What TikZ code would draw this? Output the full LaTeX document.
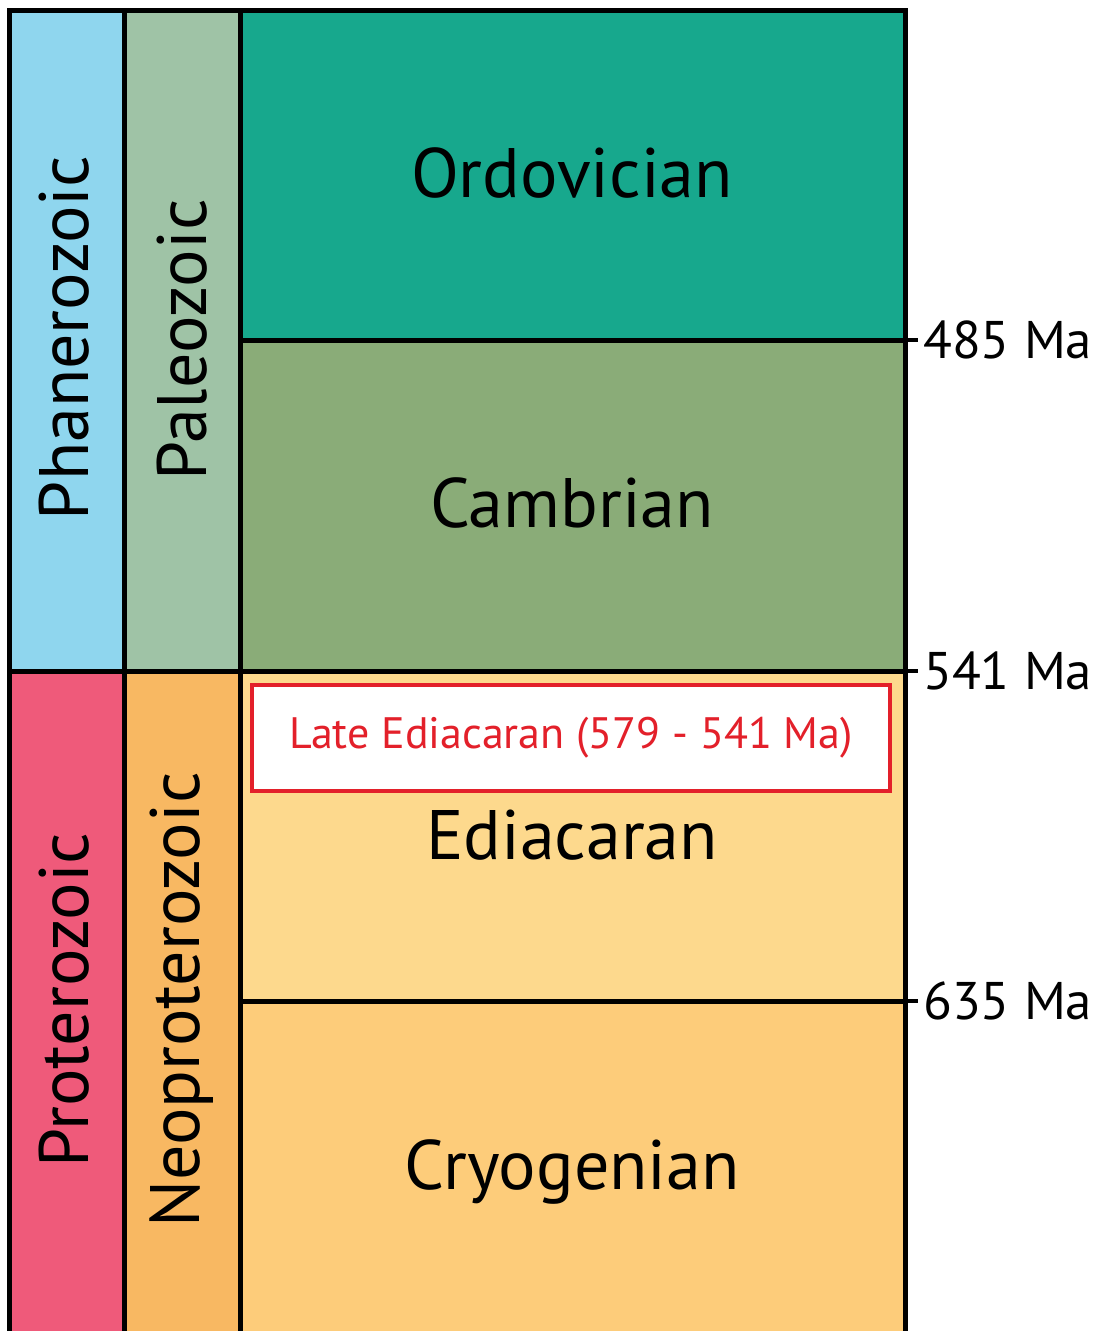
\documentclass[tikz,border=0pt]{standalone}
\usepackage{fontspec}
\setmainfont{PT Sans}
\usetikzlibrary{positioning}
\definecolor{phanblue}{HTML}{8FD6EE}
\definecolor{paleogreen}{HTML}{9FC3A6}
\definecolor{ordteal}{HTML}{17A88D}
\definecolor{cambgreen}{HTML}{8AAC78}
\definecolor{protpink}{HTML}{EF5A7A}
\definecolor{neoorange}{HTML}{F8B862}
\definecolor{edisand}{HTML}{FDD98D}
\definecolor{cryosand}{HTML}{FDCC7A}
\definecolor{latered}{HTML}{E3202A}

\begin{document}
\begin{tikzpicture}[x=1pt, y=-1pt,
  rule/.style={line width=5pt, black},
  tick/.style={line width=4pt, black},
  unit/.style={font=\fontsize{70}{70}\selectfont, inner sep=0pt},
  vunit/.style={unit, rotate=90},
  age/.style={font=\fontsize{53}{53}\selectfont, anchor=west, inner xsep=5pt, inner ysep=0pt},
  late/.style={draw=latered, line width=4pt, fill=white, text=latered,
               font=\fontsize{44}{44}\selectfont, minimum width=638pt, minimum height=106pt}]
  \useasboundingbox (0,0) rectangle (1107,1331);
  % colour fields
  \fill[phanblue]   (9,10)     rectangle (124.5,671);
  \fill[paleogreen] (124.5,10) rectangle (240.5,671);
  \fill[ordteal]    (240.5,10) rectangle (905,340);
  \fill[cambgreen]  (240.5,340) rectangle (905,671);
  \fill[protpink]   (9,671)     rectangle (124.5,1334);
  \fill[neoorange]  (124.5,671) rectangle (240.5,1334);
  \fill[edisand]    (240.5,671) rectangle (905,1001);
  \fill[cryosand]   (240.5,1001) rectangle (905,1334);
  % boundaries
  \draw[rule] (9,10) rectangle (905,1334);
  \draw[rule] (124.5,10) -- (124.5,1334);
  \draw[rule] (240.5,10) -- (240.5,1334);
  \draw[rule] (9,671) -- (905,671);
  \draw[rule] (240.5,340) -- (905,340);
  \draw[rule] (240.5,1001) -- (905,1001);
  % names
  \node[vunit] (phan) at (64,338)   {Phanerozoic};
  \node[vunit] (pal)  at (182,340)  {Paleozoic};
  \node[vunit] (prot) at (64,1000)  {Proterozoic};
  \node[vunit] (neo)  at (182,1000) {Neoproterozoic};
  \node[unit] (ord)  at (572,173)  {Ordovician};
  \node[unit] (camb) at (572,503)  {Cambrian};
  \node[unit] (edi)  at (572,835)  {Ediacaran};
  \node[unit] (cryo) at (572,1172) {Cryogenian};
  \node[late] (lateedi) at (571,738) {Late Ediacaran (579 - 541 Ma)};
  % ages
  \coordinate (t485) at (905,340);
  \coordinate (t541) at (905,671);
  \coordinate (t635) at (905,1001);
  \node[age] (a485) at (918,340)  {485 Ma};
  \node[age] (a541) at (918,671)  {541 Ma};
  \node[age] (a635) at (918,1001) {635 Ma};
  \draw[tick] (t485) -- (a485.west);
  \draw[tick] (t541) -- (a541.west);
  \draw[tick] (t635) -- (a635.west);
\end{tikzpicture}
\end{document}
